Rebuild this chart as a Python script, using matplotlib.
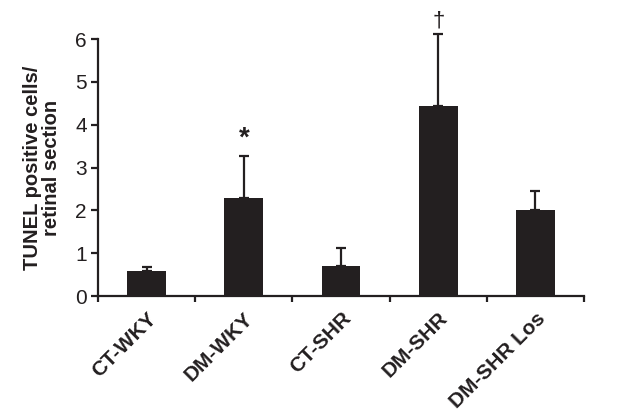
import numpy as np
import matplotlib.pyplot as plt

# values
groups = ["CT-WKY", "DM-WKY", "CT-SHR", "DM-SHR", "DM-SHR Los"]
means = [0.58, 2.29, 0.70, 4.44, 2.00]
errors = [0.10, 0.98, 0.42, 1.68, 0.45]
marks = ["", "*", "", "\u2020", ""]

plt.rcParams["font.family"] = ["Liberation Sans", "DejaVu Sans"]

fig = plt.figure(figsize=(6.2, 4.16), dpi=100)
ax = fig.add_axes([0.158, 0.288, 0.784, 0.618])

x = np.arange(len(groups))
bar_color = "#231f20"
ax.bar(x, means, width=0.4, color=bar_color, zorder=2)
eb = ax.errorbar(x, means, yerr=[np.zeros(len(errors)), errors], fmt="none",
                 ecolor=bar_color, elinewidth=1.6, capsize=3.5, capthick=1.6,
                 zorder=1)
for part in eb.get_children():
    part.set_clip_on(False)

for xi, m, e, s in zip(x, means, errors, marks):
    if s == "*":
        ax.text(xi, m + e + 0.1, s, ha="center", va="bottom",
                fontsize=20, fontweight="bold", color=bar_color)
    elif s:
        ax.text(xi, m + e + 0.06, s, ha="center", va="bottom",
                fontsize=16, color=bar_color, clip_on=False)

ax.set_xlim(-0.5, len(groups) - 0.5)
ax.set_ylim(0, 6)
ax.set_yticks(range(7))
ax.tick_params(axis="y", labelsize=15, width=1.6, length=5, pad=3,
               color=bar_color, labelcolor=bar_color)

ax.set_xticks(x)
ax.set_xticklabels(groups, rotation=45, ha="right", rotation_mode="anchor",
                   fontsize=15, fontweight="bold", color=bar_color)
ax.tick_params(axis="x", which="major", length=0, pad=9)
ax.set_xticks(np.arange(-0.5, len(groups)), minor=True)
ax.tick_params(axis="x", which="minor", length=4, width=1.6, color=bar_color)

for side in ["top", "right"]:
    ax.spines[side].set_visible(False)
for side in ["left", "bottom"]:
    ax.spines[side].set_linewidth(1.6)
    ax.spines[side].set_color(bar_color)

ax.set_ylabel("TUNEL positive cells/\nretinal section", fontsize=14.5,
              fontweight="bold", color=bar_color, labelpad=10,
              linespacing=1.0)

fig.savefig("out.png", dpi=100)
